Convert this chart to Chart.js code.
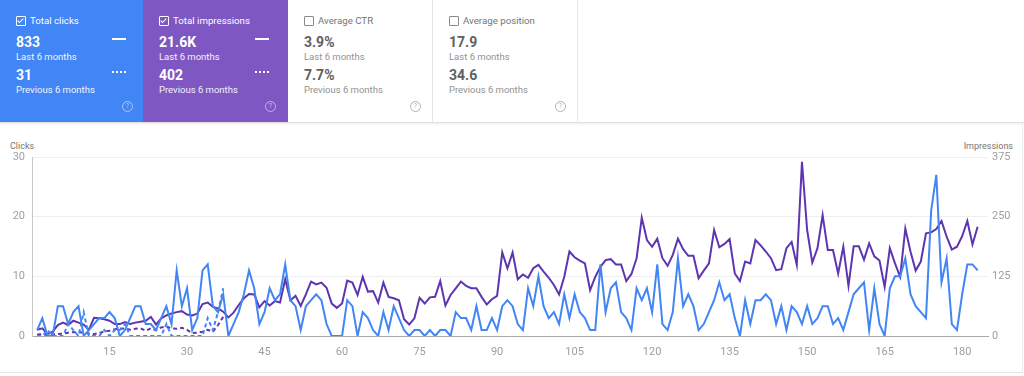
<!DOCTYPE html>
<html>
<head>
<meta charset="utf-8">
<script src="https://cdn.jsdelivr.net/npm/chart.js@4"></script>
<style>
  body { margin: 0; width: 1024px; height: 376px; background: #fff; font-family: Roboto, "Noto Sans", sans-serif; overflow: hidden; position: relative; }
  .cards { position: absolute; left: 0; top: 0; height: 122px; width: 1024px; border-bottom: 1px solid #e0e0e0; box-shadow: 0 1px 2px rgba(0,0,0,0.08); }
  .card { position: absolute; top: 0; width: 145px; height: 122px; box-sizing: border-box; color: #fff; }
  .card.off { color: #616161; border-right: 1px solid #e6e6e6; background: #fff; }
  .lbl { position: absolute; left: 30px; top: 15px; font-size: 9.7px; line-height: 12px; }
  .cb { position: absolute; left: 16px; top: 16px; width: 8px; height: 8px; border: 1px solid currentColor; border-radius: 1px; }
  .cb.on::after { content: ""; position: absolute; left: 2px; top: 0px; width: 2px; height: 5px; border: solid #fff; border-width: 0 1.5px 1.5px 0; transform: rotate(45deg); }
  .val { position: absolute; left: 16px; font-size: 14px; font-weight: 700; line-height: 16px; }
  .sub { position: absolute; left: 16px; font-size: 9.5px; line-height: 12px; opacity: 0.92; }
  .off .sub { color: #8a8a8a; }
  .mark { position: absolute; left: 112px; width: 14px; height: 0; }
  .q { position: absolute; left: 122px; top: 101px; width: 9px; height: 9px; border: 1px solid currentColor; border-radius: 50%; font-size: 7px; line-height: 9px; text-align: center; opacity: 0.55; }
  .axt { position: absolute; top: 140px; font-size: 9px; line-height: 12px; color: #757575; }
  #wrap { position: absolute; left: 0; top: 128px; width: 1024px; height: 248px; }
  .panel { position: absolute; left: 0; top: 124px; width: 1022px; height: 248px; border-right: 1px solid #eee; border-bottom: 1px solid #e3e3e3; }
</style>
</head>
<body>
<div class="cards">
  <div class="card" style="left:0;background:#4285f4;">
    <div class="cb on"></div><div class="lbl">Total clicks</div>
    <div class="val" style="top:34px;">833</div>
    <div class="mark" style="top:38px;border-top:2px solid #fff;"></div>
    <div class="sub" style="top:51px;">Last 6 months</div>
    <div class="val" style="top:67px;">31</div>
    <div class="mark" style="top:71px;border-top:2px dotted #fff;"></div>
    <div class="sub" style="top:84px;">Previous 6 months</div>
    <div class="q">?</div>
  </div>
  <div class="card" style="left:143px;background:#7e57c2;">
    <div class="cb on"></div><div class="lbl">Total impressions</div>
    <div class="val" style="top:34px;">21.6K</div>
    <div class="mark" style="top:38px;border-top:2px solid #fff;"></div>
    <div class="sub" style="top:51px;">Last 6 months</div>
    <div class="val" style="top:67px;">402</div>
    <div class="mark" style="top:71px;border-top:2px dotted #fff;"></div>
    <div class="sub" style="top:84px;">Previous 6 months</div>
    <div class="q">?</div>
  </div>
  <div class="card off" style="left:288px;">
    <div class="cb" style="color:#8a8a8a;"></div><div class="lbl" style="color:#757575;">Average CTR</div>
    <div class="val" style="top:34px;">3.9%</div>
    <div class="sub" style="top:51px;">Last 6 months</div>
    <div class="val" style="top:67px;">7.7%</div>
    <div class="sub" style="top:84px;">Previous 6 months</div>
    <div class="q" style="color:#757575;">?</div>
  </div>
  <div class="card off" style="left:433px;">
    <div class="cb" style="color:#8a8a8a;"></div><div class="lbl" style="color:#757575;">Average position</div>
    <div class="val" style="top:34px;">17.9</div>
    <div class="sub" style="top:51px;">Last 6 months</div>
    <div class="val" style="top:67px;">34.6</div>
    <div class="sub" style="top:84px;">Previous 6 months</div>
    <div class="q" style="color:#757575;">?</div>
  </div>
</div>
<div class="panel"></div>
<div class="axt" style="left:10px;">Clicks</div>
<div class="axt" style="right:11px;">Impressions</div>
<div id="wrap"><canvas id="c" width="1024" height="248"></canvas></div>
<script>
// sumbu x: hari ke-1 .. 183
const days = Array.from({ length: 183 }, (_, i) => i + 1);
const xTicks = [15, 30, 45, 60, 75, 90, 105, 120, 135, 150, 165, 180];

// 6 bulan terakhir
const clicks = [
  1, 3, 0, 0, 5, 5, 2, 4, 5, 0, 1, 2, 3, 3, 4, 3, 0, 1, 3, 5,
  5, 2, 2, 1, 3, 5, 2, 11, 5, 8, 1, 3, 11, 12, 5, 4, 7, 0, 2, 4,
  7, 11, 8, 2, 4, 8, 6, 7, 12, 6, 5, 1, 5, 6, 7, 6, 2, 0, 0, 0,
  6, 5, 0, 4, 3, 1, 0, 4, 1, 5, 3, 1, 0, 1, 1, 0, 1, 0, 1, 1,
  0, 4, 3, 3, 1, 5, 1, 1, 3, 1, 5, 6, 5, 2, 1, 8, 5, 10, 5, 3,
  4, 2, 7, 3, 7, 4, 3, 1, 1, 12, 4, 8, 9, 4, 3, 1, 8, 6, 8, 4,
  12, 2, 1, 4, 13, 5, 7, 5, 1, 2, 4, 6, 9, 6, 7, 3, 0, 6, 2, 6,
  6, 7, 6, 2, 5, 1, 5, 4, 2, 5, 2, 3, 5, 5, 2, 3, 1, 4, 7, 8,
  9, 1, 8, 2, 0, 8, 10, 10, 13, 7, 5, 4, 3, 21, 27, 9, 13, 2, 1, 7,
  12, 12, 11
];
const impressions = [
  13, 16, 4, 9, 23, 28, 23, 32, 28, 24, 13, 38, 37, 35, 32, 25, 25, 29, 25, 28,
  30, 32, 40, 24, 37, 43, 47, 50, 52, 45, 43, 47, 67, 70, 61, 58, 51, 39, 49, 65,
  79, 88, 87, 60, 73, 64, 73, 70, 119, 75, 84, 63, 87, 114, 108, 112, 101, 68, 59, 68,
  116, 112, 86, 124, 93, 94, 70, 112, 82, 79, 75, 35, 24, 37, 80, 68, 81, 82, 115, 64,
  86, 100, 114, 105, 100, 100, 82, 66, 77, 84, 175, 142, 175, 119, 129, 122, 142, 149, 135, 122,
  107, 87, 124, 177, 165, 158, 152, 96, 124, 145, 159, 161, 150, 150, 115, 130, 163, 248, 201, 187,
  204, 163, 147, 170, 204, 182, 168, 168, 121, 137, 152, 222, 186, 193, 203, 131, 115, 156, 152, 201,
  190, 177, 163, 138, 140, 184, 197, 149, 365, 222, 154, 184, 253, 180, 180, 131, 187, 105, 188, 188,
  160, 194, 167, 158, 103, 184, 152, 124, 225, 177, 137, 156, 215, 217, 224, 241, 208, 181, 187, 209,
  241, 192, 229
];

// 6 bulan sebelumnya (data hanya ada di awal)
const prevClicks = [
  0, 0, 1, 0, 0, 0, 2, 1, 0, 4, 0, 0, 0, 1, 0, 1, 1, 2, 0, 0,
  0, 0, 0, 0, 0, 2, 0, 0, 0, 0, 0, 0, 0, 3, 1, 4, 8
];
const prevImpressions = [
  3, 4, 2, 3, 4, 5, 7, 8, 8, 7, 5, 4, 6, 10, 11, 14, 15, 16, 13, 15,
  16, 11, 16, 12, 18, 20, 16, 15, 17, 13, 6, 7, 9, 13, 9, 23, 40
];

const BIRU = '#4285f4';
const UNGU = '#5e35b1';

const toPts = (arr) => arr.map((v, i) => ({ x: days[i], y: v }));

new Chart(document.getElementById('c'), {
  type: 'line',
  data: {
    datasets: [
      { data: toPts(clicks), yAxisID: 'y', borderColor: BIRU, borderWidth: 2 },
      { data: toPts(prevClicks), yAxisID: 'y', borderColor: BIRU, borderWidth: 2, borderDash: [4, 3] },
      { data: toPts(impressions), yAxisID: 'y1', borderColor: UNGU, borderWidth: 2 },
      { data: toPts(prevImpressions), yAxisID: 'y1', borderColor: UNGU, borderWidth: 2, borderDash: [4, 3] },
    ],
  },
  options: {
    responsive: false,
    animation: false,
    elements: { point: { radius: 0 }, line: { tension: 0, fill: false } },
    layout: { padding: { top: 29, left: 0, right: 0, bottom: 0 } },
    plugins: { legend: { display: false }, tooltip: { enabled: false } },
    scales: {
      x: {
        type: 'linear', min: 0, max: 185,
        afterFit: (s) => { s.height = 40; },
        afterBuildTicks: (s) => { s.ticks = xTicks.map((v) => ({ value: v })); },
        grid: { display: false, drawTicks: false },
        border: { display: true, color: '#a8a8a8', width: 1 },
        ticks: { color: '#9e9e9e', font: { family: 'Roboto', size: 11 }, padding: 10, maxRotation: 0 },
      },
      y: {
        position: 'left', min: 0, max: 30,
        afterFit: (s) => { s.width = 32; },
        grid: { color: '#eeeeee', drawTicks: false },
        border: { display: true, color: '#c8c8c8', width: 1 },
        ticks: { stepSize: 10, color: '#9e9e9e', font: { family: 'Roboto', size: 11 }, padding: 7 },
      },
      y1: {
        position: 'right', min: 0, max: 375,
        afterFit: (s) => { s.width = 36; },
        grid: { display: false, drawTicks: false },
        border: { display: false },
        ticks: { stepSize: 125, color: '#9e9e9e', font: { family: 'Roboto', size: 11 }, padding: 4 },
      },
    },
  },
});
</script>
</body>
</html>
